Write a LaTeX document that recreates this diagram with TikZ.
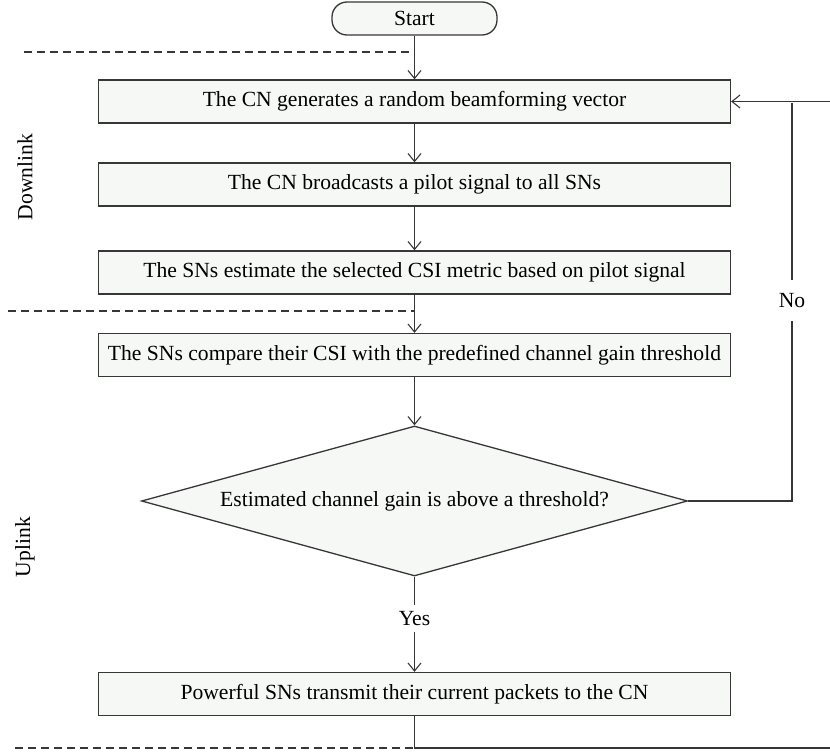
\documentclass[tikz,border=0pt]{standalone}
\usepackage{fontspec}
\setmainfont{Liberation Serif}
\usetikzlibrary{arrows.meta,shapes.geometric}
\definecolor{lc}{RGB}{55,55,55}
\definecolor{boxfill}{RGB}{246,248,246}
\begin{document}
\begin{tikzpicture}[x=1pt,y=-1pt,
  font=\fontsize{21.6}{25}\selectfont,
  line/.style={draw=lc, line width=1.3pt},
  arr/.style={line, -{Straight Barb[length=8pt,width=13pt,line width=1.1pt]}},
  dashline/.style={line, dash pattern=on 8pt off 5pt},
  procbox/.style={draw=lc, line width=1.3pt, fill=boxfill, minimum width=632pt, minimum height=43pt, inner sep=0pt, anchor=center},
  termbox/.style={draw=lc, line width=1.3pt, fill=boxfill, minimum width=165pt, minimum height=33pt, rounded corners=15pt, inner sep=0pt},
  decbox/.style={diamond, draw=lc, line width=1.3pt, fill=boxfill, aspect=3.65, minimum width=546pt, minimum height=150pt, inner sep=0pt},
  lbl/.style={inner xsep=2pt, inner ysep=0pt}
]
\useasboundingbox (0,0) rectangle (830,752);

\node[termbox] (start) at (414.5,18.5) {Start};
\node[procbox] (b1) at (414.5,101.5) {The CN generates a random beamforming vector};
\node[procbox] (b2) at (414.5,184.5) {The CN broadcasts a pilot signal to all SNs};
\node[procbox] (b3) at (414.5,272.5) {The SNs estimate the selected CSI metric based on pilot signal};
\node[procbox] (b4) at (414.5,355) {The SNs compare their CSI with the predefined channel gain threshold};
\node[decbox] (d) at (414.5,501) {Estimated channel gain is above a threshold?};
\node[procbox] (b5) at (414.5,694) {Powerful SNs transmit their current packets to the CN};

\node[lbl, minimum height=27pt] (yes) at (414.5,618.5) {Yes};
\node[lbl, minimum height=41pt] (no) at (792,300.5) {No};

\node[rotate=90] (down) at (25,177) {Downlink};
\node[rotate=90] (up) at (25,547) {Uplink};

% coordinates
\coordinate (dl1a) at (24,52);
\coordinate (dl1b) at (414.5,52);
\coordinate (dl2a) at (8,311);
\coordinate (dl2b) at (414.5,311);
\coordinate (dl3a) at (15,748);
\coordinate (dl3b) at (414.5,748);
\coordinate (bend) at (792,501);
\coordinate (vtop) at (792,103);
\coordinate (ret) at (830,101.5);
\coordinate (bend2) at (830,748);

% dashed separators
\draw[dashline] (dl1a) -- (dl1b);
\draw[dashline] (dl2a) -- (dl2b);
\draw[dashline] (dl3a) -- (dl3b);

% main flow
\draw[arr] (start.south) -- (b1.north);
\draw[arr] (b1.south) -- (b2.north);
\draw[arr] (b2.south) -- (b3.north);
\draw[arr] (b3.south) -- (b4.north);
\draw[arr] (b4.south) -- (d.north);
\draw[line] (d.south) -- (yes.north);
\draw[arr] (yes.south) -- (b5.north);

% No branch
\draw[line] (d.east) -- (bend) -- (no.south);
\draw[line] (no.north) -- (vtop);

% return loop
\draw[arr] (ret) -- (b1.east);
\draw[line] (b5.south) -- (dl3b) -- (bend2);
\end{tikzpicture}
\end{document}
